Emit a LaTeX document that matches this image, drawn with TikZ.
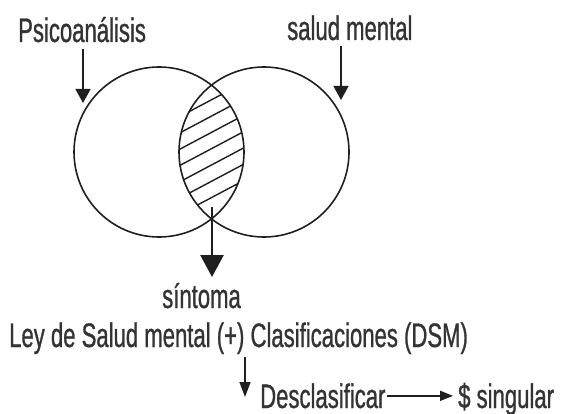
\documentclass[tikz,border=0pt]{standalone}
\usepackage{fontspec}
\setmainfont{Liberation Sans}[FakeStretch=0.65,FakeBold=0.8]
\usetikzlibrary{shapes,arrows.meta}

\begin{document}
\begin{tikzpicture}[%
  x=1pt,y=-1pt,
  txt/.style={inner sep=0pt,anchor=base west,text=black!80,
    font=\fontsize{34}{34}\selectfont},
  set/.style={circle,draw=black!88,line width=1.6pt,inner sep=0pt,
    minimum size=170pt},
  arr/.style={draw=black!88,line width=1.5pt,
    -{Triangle[length=14pt,width=15pt]}},
  downarr/.style={arr,-{Triangle[length=15pt,width=11pt]}},
  sidearr/.style={arr,-{Triangle[length=13pt,width=10pt]}},
  bigarr/.style={draw=black!88,line width=2.6pt,
    -{Triangle[length=22pt,width=23pt]}},
  hatch/.style={draw=black!88,line width=1.4pt}]
    \useasboundingbox (0,0) rectangle (561,414);
    % Sets
    \node[set] (psicoset) at (159,152) {};
    \node[set] (saludset) at (264,152) {};
    % Hatched intersection
    \begin{scope}
      \clip (159,152) circle (85pt);
      \clip (264,152) circle (85pt);
      \foreach \c in {0,...,6}
        \draw[hatch] (170,{121.8+16.3*\c}) -- (252,{78.3+16.3*\c});
    \end{scope}
    % Labels
    \node[txt] (psico) at (18,42) {Psicoanálisis};
    \node[txt] (salud) at (287,40) {salud mental};
    \node[txt] (sintoma) at (162,308) {síntoma};
    \node[txt] (ley) at (9,347) {Ley de Salud mental (+) Clasificaciones (DSM)};
    \node[txt] (descl) at (260,408) {Desclasificar};
    \node[txt] (singular) at (458,408) {\$ singular};
    % Arrows
    \coordinate (psicotip) at (83,103);
    \coordinate (saludtip) at (341,100);
    \coordinate (lens) at (212,207);
    \coordinate (lenstip) at (212,277);
    \coordinate (split) at (245,357);
    \coordinate (splittip) at (245,397);
    \draw[arr,shorten <=6pt] (psico.south -| psicotip) -- (psicotip);
    \draw[arr,shorten <=5pt] (salud.south -| saludtip) -- (saludtip);
    \draw[bigarr] (lens) -- (lenstip);
    \draw[downarr] (split) -- (splittip);
    \draw[sidearr,shorten <=1pt,shorten >=5pt] (descl.east) -- (descl.east -| singular.west);
\end{tikzpicture}
\end{document}
